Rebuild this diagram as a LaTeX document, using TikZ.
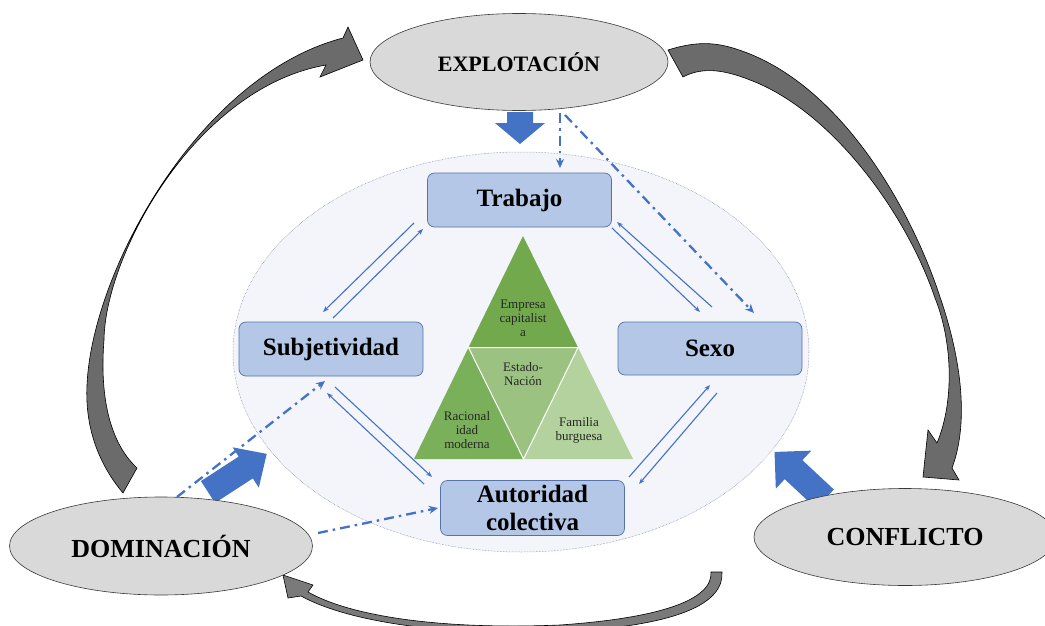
\documentclass[tikz,border=0pt]{standalone}
\usepackage{fontspec}
\setmainfont{Liberation Serif}
\usetikzlibrary{shapes.geometric,arrows.meta,calc}
\definecolor{boxfill}{HTML}{B4C7E7}
\definecolor{boxline}{HTML}{5573A8}
\definecolor{arrblue}{HTML}{4472C4}
\definecolor{ovalfill}{HTML}{D9D9D9}
\definecolor{ovalline}{HTML}{3A3A3A}
\definecolor{bigfill}{HTML}{F3F5FB}
\definecolor{bigline}{HTML}{6F7C91}
\definecolor{grayarr}{HTML}{6B6B6B}
\definecolor{grayarrB}{HTML}{7A7A7A}
\definecolor{gTop}{HTML}{72A94D}
\definecolor{gLeft}{HTML}{7BB05A}
\definecolor{gMid}{HTML}{9CC282}
\definecolor{gRight}{HTML}{B3D29D}
\begin{document}
\begin{tikzpicture}[x=1pt,y=-1pt,
  oval/.style={ellipse, draw=ovalline, line width=0.6pt, fill=ovalfill, inner sep=0pt,
    font=\fontsize{26}{28}\selectfont\bfseries},
  concept/.style={rounded corners=7pt, draw=boxline, line width=0.7pt, fill=boxfill,
    minimum width=184pt, minimum height=54pt, align=center,
    font=\fontsize{25}{28}\selectfont\bfseries},
  rel/.style={draw=arrblue, line width=1.1pt, -{Stealth[length=6pt,width=4.5pt]}},
  dd/.style={draw=arrblue, line width=2.3pt, dash pattern=on 10pt off 5pt on 2.5pt off 5pt,
    -{Stealth[length=9pt,width=8pt]}},
  blockarr/.style={fill=arrblue},
  grayarrow/.style={fill=grayarr, draw=black, line width=0.6pt, line join=miter},
  tri/.style={font=\fontsize{13}{14}\selectfont, text=black!85, align=center, inner sep=0pt},
  sep/.style={draw=white, line width=1pt}
]
\useasboundingbox (0,0) rectangle (1045,626);
\fill[white] (0,0) rectangle (1045,626);

% big central ellipse
\node[ellipse, draw=bigline, densely dotted, line width=0.5pt, fill=bigfill,
  minimum width=576pt, minimum height=400pt, inner sep=0pt] (big) at (521,352) {};

% gray curved arrows
\filldraw[grayarrow] (123,493) .. controls (97,462) and (85,425) .. (87,385)
  .. controls (92,270) and (200,75) .. (343,38)
  -- (348,27) -- (363,60) -- (320,77) -- (326,65)
  .. controls (195,88) and (105,255) .. (104,340)
  .. controls (100,390) and (107,440) .. (137,468) -- cycle;

\filldraw[grayarrow] (668,50) .. controls (700,40) and (720,42) .. (750,54)
  .. controls (850,95) and (915,220) .. (940,297)
  .. controls (960,355) and (970,420) .. (952,468)
  -- (959,480) -- (923,477) -- (928,430) -- (937,443)
  .. controls (955,400) and (952,340) .. (935,298)
  .. controls (905,210) and (830,110) .. (750,80)
  .. controls (720,68) and (700,68) .. (683,77) -- cycle;

\filldraw[grayarrow, fill=grayarrB] (711,572) .. controls (713,600) and (660,618) .. (560,625)
  .. controls (440,630) and (350,616) .. (308,592)
  -- (313,585) -- (283,575) -- (288,598) -- (301,596)
  .. controls (350,623) and (450,636) .. (560,632)
  .. controls (680,626) and (724,603) .. (722,572) -- cycle;

% blue block arrows
\fill[blockarr] (507,112) -- (533,112) -- (533,123) -- (545,123) -- (520,144) -- (495,123) -- (507,123) -- cycle;
\begin{scope}[shift={(208,492)}, rotate=33]
  \fill[blockarr] (0,-13) -- (45,-13) -- (45,-24) -- (70,0) -- (45,24) -- (45,13) -- (0,13) -- cycle;
\end{scope}
\begin{scope}[shift={(825,499)}, rotate=137]
  \fill[blockarr] (0,-13) -- (43,-13) -- (43,-26) -- (69,0) -- (43,26) -- (43,13) -- (0,13) -- cycle;
\end{scope}

% gray ovals
\node[oval, minimum width=298pt, minimum height=97pt, font=\fontsize{22}{24}\selectfont\bfseries] (expl) at (519,62) {EXPLOTACIÓN};
\node[oval, minimum width=303pt, minimum height=98pt] (domi) at (161,546) {DOMINACIÓN};
\node[oval, minimum width=302pt, minimum height=97pt] (conf) at (905,537) {CONFLICTO};

% triangle
\coordinate (apex) at (523,236);
\coordinate (bl) at (414,459);
\coordinate (br) at (633,459);
\coordinate (ml) at ($(apex)!0.5!(bl)$);
\coordinate (mr) at ($(apex)!0.5!(br)$);
\coordinate (mb) at ($(bl)!0.5!(br)$);
\fill[gTop] (apex) -- (ml) -- (mr) -- cycle;
\fill[gLeft] (ml) -- (bl) -- (mb) -- cycle;
\fill[gMid] (ml) -- (mr) -- (mb) -- cycle;
\fill[gRight] (mr) -- (mb) -- (br) -- cycle;
\draw[sep] (ml) -- (mr) -- (mb) -- cycle;
\node[tri] (empresa) at (523,318) {Empresa\\capitalist\\a};
\node[tri] (estado) at (523,374) {Estado-\\Nación};
\node[tri] (racional) at (467,430) {Racional\\idad\\moderna};
\node[tri] (familia) at (579,430) {Familia\\burguesa};

% concept boxes
\node[concept] (trabajo) at (519.5,200) {Trabajo};
\node[concept] (subj) at (331,349) {Subjetividad};
\node[concept, minimum height=53pt] (sexo) at (710,348.5) {Sexo};
\node[concept, minimum height=55pt] (auto) at (532.5,508) {Autoridad\\colectiva};

% thin relation arrows
\coordinate (ts1) at (414,223); \coordinate (ts2) at (323,312);
\coordinate (ts3) at (333,318); \coordinate (ts4) at (423,229);
\draw[rel] (ts1) -- (ts2);
\draw[rel] (ts3) -- (ts4);
\coordinate (tx1) at (612,228); \coordinate (tx2) at (700,312);
\coordinate (tx3) at (712,307); \coordinate (tx4) at (617,222);
\draw[rel] (tx1) -- (tx2);
\draw[rel] (tx3) -- (tx4);
\coordinate (sa1) at (335,387); \coordinate (sa2) at (432,477);
\coordinate (sa3) at (424,484); \coordinate (sa4) at (327,393);
\draw[rel] (sa1) -- (sa2);
\draw[rel] (sa3) -- (sa4);
\coordinate (xa1) at (629,477); \coordinate (xa2) at (710,385);
\coordinate (xa3) at (717,393); \coordinate (xa4) at (639,484);
\draw[rel] (xa1) -- (xa2);
\draw[rel] (xa3) -- (xa4);

% dash-dot arrows
\coordinate (e1) at (560,113); \coordinate (e1t) at (560,168);
\coordinate (e2) at (565,115); \coordinate (e2t) at (754,313);
\coordinate (d1) at (177,497); \coordinate (d1t) at (325,381);
\coordinate (d2) at (318,533); \coordinate (d2t) at (438,508);
\draw[dd] (e1) -- (e1t);
\draw[dd] (e2) -- (e2t);
\draw[dd] (d1) -- (d1t);
\draw[dd] (d2) -- (d2t);
\end{tikzpicture}
\end{document}
